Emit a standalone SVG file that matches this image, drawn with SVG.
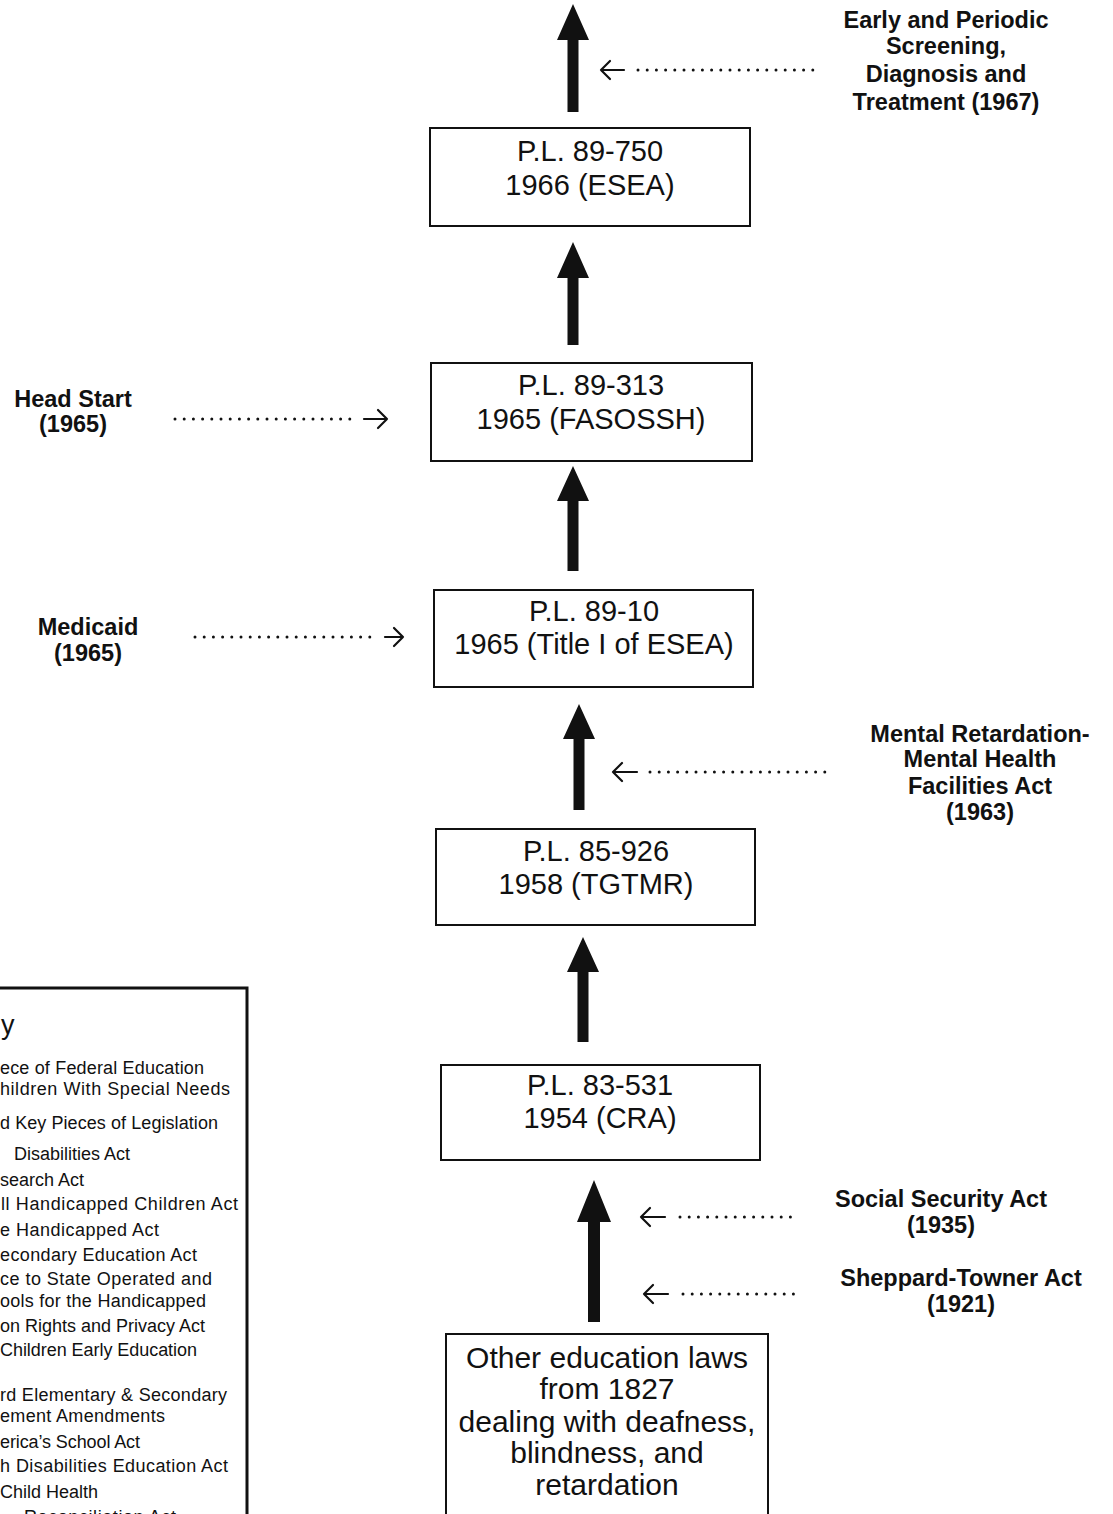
<svg xmlns="http://www.w3.org/2000/svg" width="1113" height="1514" viewBox="0 0 1113 1514">
  <style>
    .box { fill: #fff; stroke: #111; stroke-width: 2; }
    .boxtxt { font-family: "Liberation Sans", Arial, sans-serif; font-size: 29px; fill: #111; text-anchor: middle; }
    .big { font-size: 30px; }
    .lbl { font-family: "Liberation Sans", Arial, sans-serif; font-size: 23.5px; font-weight: bold; fill: #111; text-anchor: middle; }
    .key { font-family: "Liberation Sans", Arial, sans-serif; font-size: 18px; fill: #111; }
    .keyhead { font-size: 27px; }
    .thick { fill: #111; stroke: none; }
    .dots { fill: none; stroke: #111; stroke-width: 3; stroke-linecap: round; stroke-dasharray: 0 9.2; }
    .tip { fill: none; stroke: #111; stroke-width: 2.2; stroke-linecap: round; stroke-linejoin: round; }
  </style>

  <rect width="1113" height="1514" fill="#fff"/>

  <!-- legislation boxes -->
  <g id="pl-89-750">
    <rect class="box" x="430" y="128" width="320" height="98"/>
    <text class="boxtxt" x="590" y="161">P.L. 89-750</text>
    <text class="boxtxt" x="590" y="195">1966 (ESEA)</text>
  </g>
  <g id="pl-89-313">
    <rect class="box" x="431" y="363" width="321" height="98"/>
    <text class="boxtxt" x="591" y="395">P.L. 89-313</text>
    <text class="boxtxt" x="591" y="429">1965 (FASOSSH)</text>
  </g>
  <g id="pl-89-10">
    <rect class="box" x="434" y="590" width="319" height="97"/>
    <text class="boxtxt" x="594" y="621">P.L. 89-10</text>
    <text class="boxtxt" x="594" y="654">1965 (Title I of ESEA)</text>
  </g>
  <g id="pl-85-926">
    <rect class="box" x="436" y="829" width="319" height="96"/>
    <text class="boxtxt" x="596" y="861">P.L. 85-926</text>
    <text class="boxtxt" x="596" y="894">1958 (TGTMR)</text>
  </g>
  <g id="pl-83-531">
    <rect class="box" x="441" y="1065" width="319" height="95"/>
    <text class="boxtxt" x="600" y="1095">P.L. 83-531</text>
    <text class="boxtxt" x="600" y="1128">1954 (CRA)</text>
  </g>
  <g id="other-laws">
    <rect class="box" x="446" y="1334" width="322" height="190"/>
    <text class="boxtxt big" x="607" y="1368">Other education laws</text>
    <text class="boxtxt big" x="607" y="1399">from 1827</text>
    <text class="boxtxt big" x="607" y="1432">dealing with deafness,</text>
    <text class="boxtxt big" x="607" y="1463">blindness, and</text>
    <text class="boxtxt big" x="607" y="1495">retardation</text>
  </g>

  <!-- side programs -->
  <g id="epsdt">
    <text class="lbl" x="946" y="28">Early and Periodic</text>
    <text class="lbl" x="946" y="54">Screening,</text>
    <text class="lbl" x="946" y="82">Diagnosis and</text>
    <text class="lbl" x="946" y="110">Treatment (1967)</text>
  </g>
  <g id="head-start">
    <text class="lbl" x="73" y="407">Head Start</text>
    <text class="lbl" x="73" y="432">(1965)</text>
  </g>
  <g id="medicaid">
    <text class="lbl" x="88" y="635">Medicaid</text>
    <text class="lbl" x="88" y="661">(1965)</text>
  </g>
  <g id="mr-mh-facilities">
    <text class="lbl" x="980" y="742">Mental Retardation-</text>
    <text class="lbl" x="980" y="767">Mental Health</text>
    <text class="lbl" x="980" y="794">Facilities Act</text>
    <text class="lbl" x="980" y="820">(1963)</text>
  </g>
  <g id="social-security">
    <text class="lbl" x="941" y="1207">Social Security Act</text>
    <text class="lbl" x="941" y="1233">(1935)</text>
  </g>
  <g id="sheppard-towner">
    <text class="lbl" x="961" y="1286">Sheppard-Towner Act</text>
    <text class="lbl" x="961" y="1312">(1921)</text>
  </g>

  <!-- key panel, partly off the left edge -->
  <g id="key">
    <path d="M-10 988 H247 V1530" fill="none" stroke="#111" stroke-width="3"/>
    <text class="key keyhead" x="1" y="1034">y</text>
    <text class="key" x="0" y="1074" textLength="204">ece of Federal Education</text>
    <text class="key" x="0" y="1095" textLength="230">hildren With Special Needs</text>
    <text class="key" x="0" y="1129" textLength="218">d Key Pieces of Legislation</text>
    <text class="key" x="14" y="1160">Disabilities Act</text>
    <text class="key" x="0" y="1186" textLength="84">search Act</text>
    <text class="key" x="1" y="1210" textLength="237">ll Handicapped Children Act</text>
    <text class="key" x="0" y="1236" textLength="159">e Handicapped Act</text>
    <text class="key" x="0" y="1261" textLength="197">econdary Education Act</text>
    <text class="key" x="0" y="1285" textLength="212">ce to State Operated and</text>
    <text class="key" x="0" y="1307" textLength="206">ools for the Handicapped</text>
    <text class="key" x="0" y="1332" textLength="205">on Rights and Privacy Act</text>
    <text class="key" x="0" y="1356" textLength="197">Children Early Education</text>
    <text class="key" x="0" y="1401" textLength="227">rd Elementary &amp; Secondary</text>
    <text class="key" x="0" y="1422" textLength="165">ement Amendments</text>
    <text class="key" x="0" y="1448" textLength="140">erica’s School Act</text>
    <text class="key" x="0" y="1472" textLength="228">h Disabilities Education Act</text>
    <text class="key" x="0" y="1498" textLength="98">Child Health</text>
    <text class="key" x="24" y="1523" textLength="152">Reconciliation Act</text>
  </g>

  <!-- connectors -->
  <g id="connectors">
    <!-- thick upward arrows between the boxes -->
    <path class="thick" d="M573 4 L589 40 L578.5 40 L578.5 112 L567.5 112 L567.5 40 L557 40 Z"/>
    <path class="thick" d="M573 242 L589 278 L578.5 278 L578.5 345 L567.5 345 L567.5 278 L557 278 Z"/>
    <path class="thick" d="M573 466 L589 501 L578.5 501 L578.5 571 L567.5 571 L567.5 501 L557 501 Z"/>
    <path class="thick" d="M579 704 L595 739 L584.5 739 L584.5 810 L573.5 810 L573.5 739 L563 739 Z"/>
    <path class="thick" d="M583 937 L599 972 L588.5 972 L588.5 1042 L577.5 1042 L577.5 972 L567 972 Z"/>
    <path class="thick" d="M594 1180 L611 1222 L600 1222 L600 1322 L588 1322 L588 1222 L577 1222 Z"/>

    <!-- dotted leaders from the side programs -->
    <line class="dots" x1="638" y1="70" x2="820" y2="70"/>
    <path class="tip" d="M624 70 H601 M610 61 L601 70 L610 79"/>

    <line class="dots" x1="175" y1="419" x2="355" y2="419"/>
    <path class="tip" d="M364 419 H387 M378 410 L387 419 L378 428"/>

    <line class="dots" x1="195" y1="637" x2="377" y2="637"/>
    <path class="tip" d="M385 637 H403 M394 628 L403 637 L394 646"/>

    <line class="dots" x1="650" y1="772" x2="830" y2="772"/>
    <path class="tip" d="M637 772 H613 M622 763 L613 772 L622 781"/>

    <line class="dots" x1="680" y1="1217" x2="795" y2="1217"/>
    <path class="tip" d="M665 1217 H641 M650 1208 L641 1217 L650 1226"/>

    <line class="dots" x1="683" y1="1294" x2="797" y2="1294"/>
    <path class="tip" d="M668 1294 H644 M653 1285 L644 1294 L653 1303"/>
  </g>
</svg>
